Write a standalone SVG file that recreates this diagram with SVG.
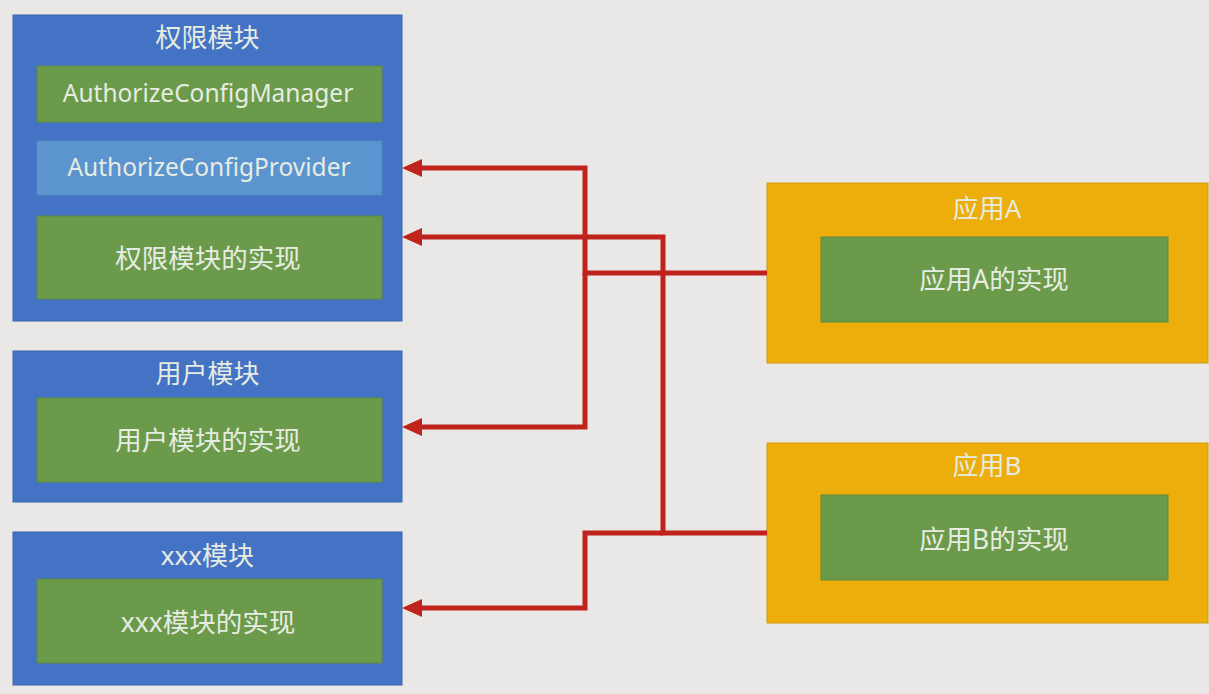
<svg xmlns="http://www.w3.org/2000/svg" width="1209" height="694" viewBox="0 0 1209 694">
  <style>
    .mod { fill: #4472c4; stroke: #3b64ad; stroke-width: 1; }
    .app { fill: #edae0c; stroke: #d49a0a; stroke-width: 1; }
    .impl { fill: #6b9a4b; stroke: #5e8a41; stroke-width: 1; }
    .prov { fill: #5b94cf; stroke: #5088c2; stroke-width: 1; }
    .t { font-family: "Noto Sans", "Noto Sans CJK SC", sans-serif; fill: #e6ece2; text-anchor: middle; }
    .title { font-size: 26px; }
    .inner { font-size: 26.5px; }
    .latin { font-size: 24.5px; }
    .conn { fill: none; stroke: #c0231b; stroke-width: 5; stroke-linejoin: miter; }
  </style>
  <defs>
    <marker id="arrow" markerUnits="userSpaceOnUse" markerWidth="20" markerHeight="18" viewBox="0 0 18 16" refX="9" refY="8" orient="auto">
      <path d="M0,0 L18,8 L0,16 z" fill="#c0231b"/>
    </marker>
  </defs>
  <rect x="0" y="0" width="1209" height="694" fill="#e9e8e6"/>

  <g id="auth-module">
    <rect class="mod" x="13" y="15" width="389" height="306"/>
    <text class="t title" x="207.5" y="47">权限模块</text>
    <g id="auth-config-manager">
      <rect class="impl" x="37" y="66" width="345" height="56"/>
      <text class="t latin" x="208" y="102">AuthorizeConfigManager</text>
    </g>
    <g id="auth-config-provider">
      <rect class="prov" x="37" y="141" width="345" height="54"/>
      <text class="t latin" x="209" y="176">AuthorizeConfigProvider</text>
    </g>
    <g id="auth-impl">
      <rect class="impl" x="37" y="216" width="345" height="83"/>
      <text class="t inner" x="208" y="268">权限模块的实现</text>
    </g>
  </g>

  <g id="user-module">
    <rect class="mod" x="13" y="351" width="389" height="151"/>
    <text class="t title" x="207.5" y="383">用户模块</text>
    <g id="user-impl">
      <rect class="impl" x="37" y="398" width="345" height="84"/>
      <text class="t inner" x="208" y="450">用户模块的实现</text>
    </g>
  </g>

  <g id="xxx-module">
    <rect class="mod" x="13" y="532" width="389" height="153"/>
    <text class="t title" x="207.5" y="565">xxx模块</text>
    <g id="xxx-impl">
      <rect class="impl" x="37" y="579" width="345" height="84"/>
      <text class="t inner" x="208" y="632">xxx模块的实现</text>
    </g>
  </g>

  <g id="app-a">
    <rect class="app" x="767" y="183" width="441" height="180"/>
    <text class="t title" x="987" y="218">应用A</text>
    <g id="app-a-impl">
      <rect class="impl" x="821" y="237" width="347" height="85"/>
      <text class="t inner" x="994" y="289">应用A的实现</text>
    </g>
  </g>

  <g id="app-b">
    <rect class="app" x="767" y="443" width="441" height="180"/>
    <text class="t title" x="987" y="475">应用B</text>
    <g id="app-b-impl">
      <rect class="impl" x="821" y="495" width="347" height="85"/>
      <text class="t inner" x="994" y="549">应用B的实现</text>
    </g>
  </g>

  <g id="connectors">
    <path class="conn" d="M767,273 L585,273 L585,168 L412,168" marker-end="url(#arrow)"/>
    <path class="conn" d="M585,273 L585,427 L412,427" marker-end="url(#arrow)"/>
    <path class="conn" d="M767,533 L663,533 L663,237 L412,237" marker-end="url(#arrow)"/>
    <path class="conn" d="M663,533 L585,533 L585,608 L412,608" marker-end="url(#arrow)"/>
  </g>
</svg>
